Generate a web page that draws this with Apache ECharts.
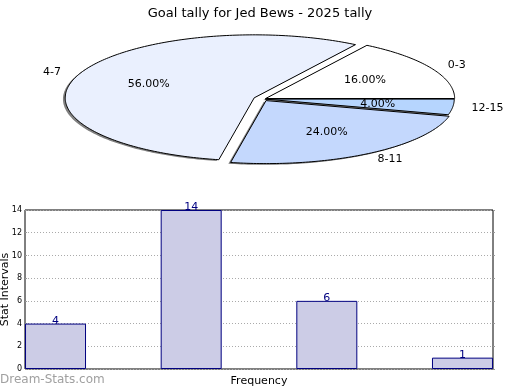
<!DOCTYPE html>
<html>
<head>
<meta charset="utf-8">
<script src="https://cdn.jsdelivr.net/npm/echarts@6/dist/echarts.min.js"></script>
<style>html,body{margin:0;padding:0;background:#fff}#c{width:520px;height:390px}</style>
</head>
<body>
<div id="c"></div>
<script>
const categories = ['0-3', '4-7', '8-11', '12-15'];
const counts = [4, 14, 6, 1];
const sliceColors = ['#ffffff', '#eaf0fe', '#c4d8fd', '#b6d5fe'];
const titleText = 'Goal tally for Jed Bews - 2025 tally';
const xName = 'Frequency';
const yName = 'Stat Intervals';

const FONT = 'DejaVu Sans';
const pieGeom = { cx: 263, cy: 99, rx: 189, ry: 63 };
const explode = [0.016, 0.05, 0.03, 0.012];
const total = counts.reduce((a, b) => a + b, 0);

function renderSlice(params, api) {
  const i = params.dataIndex;
  const v = api.value(0);
  let before = 0;
  for (let k = 0; k < i; k++) before += counts[k];
  const a0 = before / total * 2 * Math.PI;
  const a1 = (before + v) / total * 2 * Math.PI;
  const mid = (a0 + a1) / 2;
  const { cx, cy, rx, ry } = pieGeom;
  const ox = explode[i] * rx * Math.cos(mid);
  const oy = -explode[i] * ry * Math.sin(mid);
  const ccx = cx + ox, ccy = cy + oy;
  const pts = [[ccx, ccy]];
  const steps = Math.max(4, Math.ceil((a1 - a0) / (Math.PI / 180)));
  for (let s = 0; s <= steps; s++) {
    const a = a0 + (a1 - a0) * s / steps;
    pts.push([ccx + rx * Math.cos(a), ccy - ry * Math.sin(a)]);
  }
  const sdx = -0.012 * rx, sdy = 0.02 * ry;
  const shadowPts = pts.map(p => [p[0] + sdx, p[1] + sdy]);
  const cosm = Math.cos(mid), sinm = Math.sin(mid);
  return {
    type: 'group',
    children: [
      { type: 'polygon', shape: { points: shadowPts }, style: { fill: '#808080' }, z2: 0 },
      { type: 'polygon', shape: { points: pts }, style: { fill: api.visual('color'), stroke: '#000', lineWidth: 1 }, z2: 10 },
      { type: 'text', z2: 20, style: {
          text: categories[i], x: ccx + 1.1 * rx * cosm, y: ccy - 1.1 * ry * sinm,
          align: cosm > 0 ? 'left' : 'right', verticalAlign: 'middle',
          fill: '#000', font: '11px "' + FONT + '"' } },
      { type: 'text', z2: 20, style: {
          text: (v / total * 100).toFixed(2) + '%', x: ccx + 0.6 * rx * cosm, y: ccy - 0.6 * ry * sinm,
          align: 'center', verticalAlign: 'middle',
          fill: '#000', font: '11px "' + FONT + '"' } }
    ]
  };
}

const chart = echarts.init(document.getElementById('c'), null, { renderer: 'canvas' });
const barOffset = 0.225;
chart.setOption({
  animation: false,
  textStyle: { fontFamily: FONT },
  title: { text: titleText, left: 'center', top: 2,
    textStyle: { fontFamily: FONT, fontSize: 13, fontWeight: 'normal', color: '#000' } },
  graphic: [{ type: 'text', left: 0, top: 374,
    style: { text: 'Dream-Stats.com', fill: '#a0a0a0', font: '12px "' + FONT + '"' } }],
  grid: { left: 25, right: 27, top: 210, bottom: 21, containLabel: false, outerBoundsMode: 'none',
    show: true, borderColor: '#000', borderWidth: 1, backgroundColor: 'transparent' },
  xAxis: { type: 'value', min: 0, max: 3.45,
    axisLine: { show: false }, axisTick: { show: false }, axisLabel: { show: false }, splitLine: { show: false },
    name: xName, nameLocation: 'middle', nameGap: 7,
    nameTextStyle: { fontFamily: FONT, fontSize: 11, color: '#000' } },
  yAxis: [{ type: 'value', min: 0, max: 14, interval: 2,
    axisLine: { show: false }, axisTick: { show: true, inside: true, length: 2, lineStyle: { color: '#999' } },
    axisLabel: { fontFamily: FONT, fontSize: 8, color: '#000', margin: 3 },
    splitLine: { show: true, lineStyle: { color: '#aaa', type: [1, 2], width: 1 } },
    name: yName, nameLocation: 'middle', nameGap: 14, nameMoveOverlap: false,
    nameTextStyle: { fontFamily: FONT, fontSize: 11, color: '#000' } },
    { type: 'value', min: 0, max: 14, interval: 2, position: 'right',
    axisLine: { show: false }, axisTick: { show: true, length: 2, lineStyle: { color: '#999' } },
    axisLabel: { show: false }, splitLine: { show: false } }],
  series: [
    { type: 'custom', coordinateSystem: 'none', renderItem: renderSlice,
      data: counts.map((v, i) => ({ value: [v], itemStyle: { color: sliceColors[i] } })) },
    { type: 'bar', xAxisIndex: 0, yAxisIndex: 0, barWidth: 61,
      data: counts.map((v, i) => [i + barOffset, v]),
      itemStyle: { color: '#ccccE6', borderColor: '#000080', borderWidth: 1 },
      label: { show: true, position: 'top', distance: -3, color: '#000080', fontSize: 11, fontFamily: FONT } }
  ]
});
</script>
</body>
</html>
